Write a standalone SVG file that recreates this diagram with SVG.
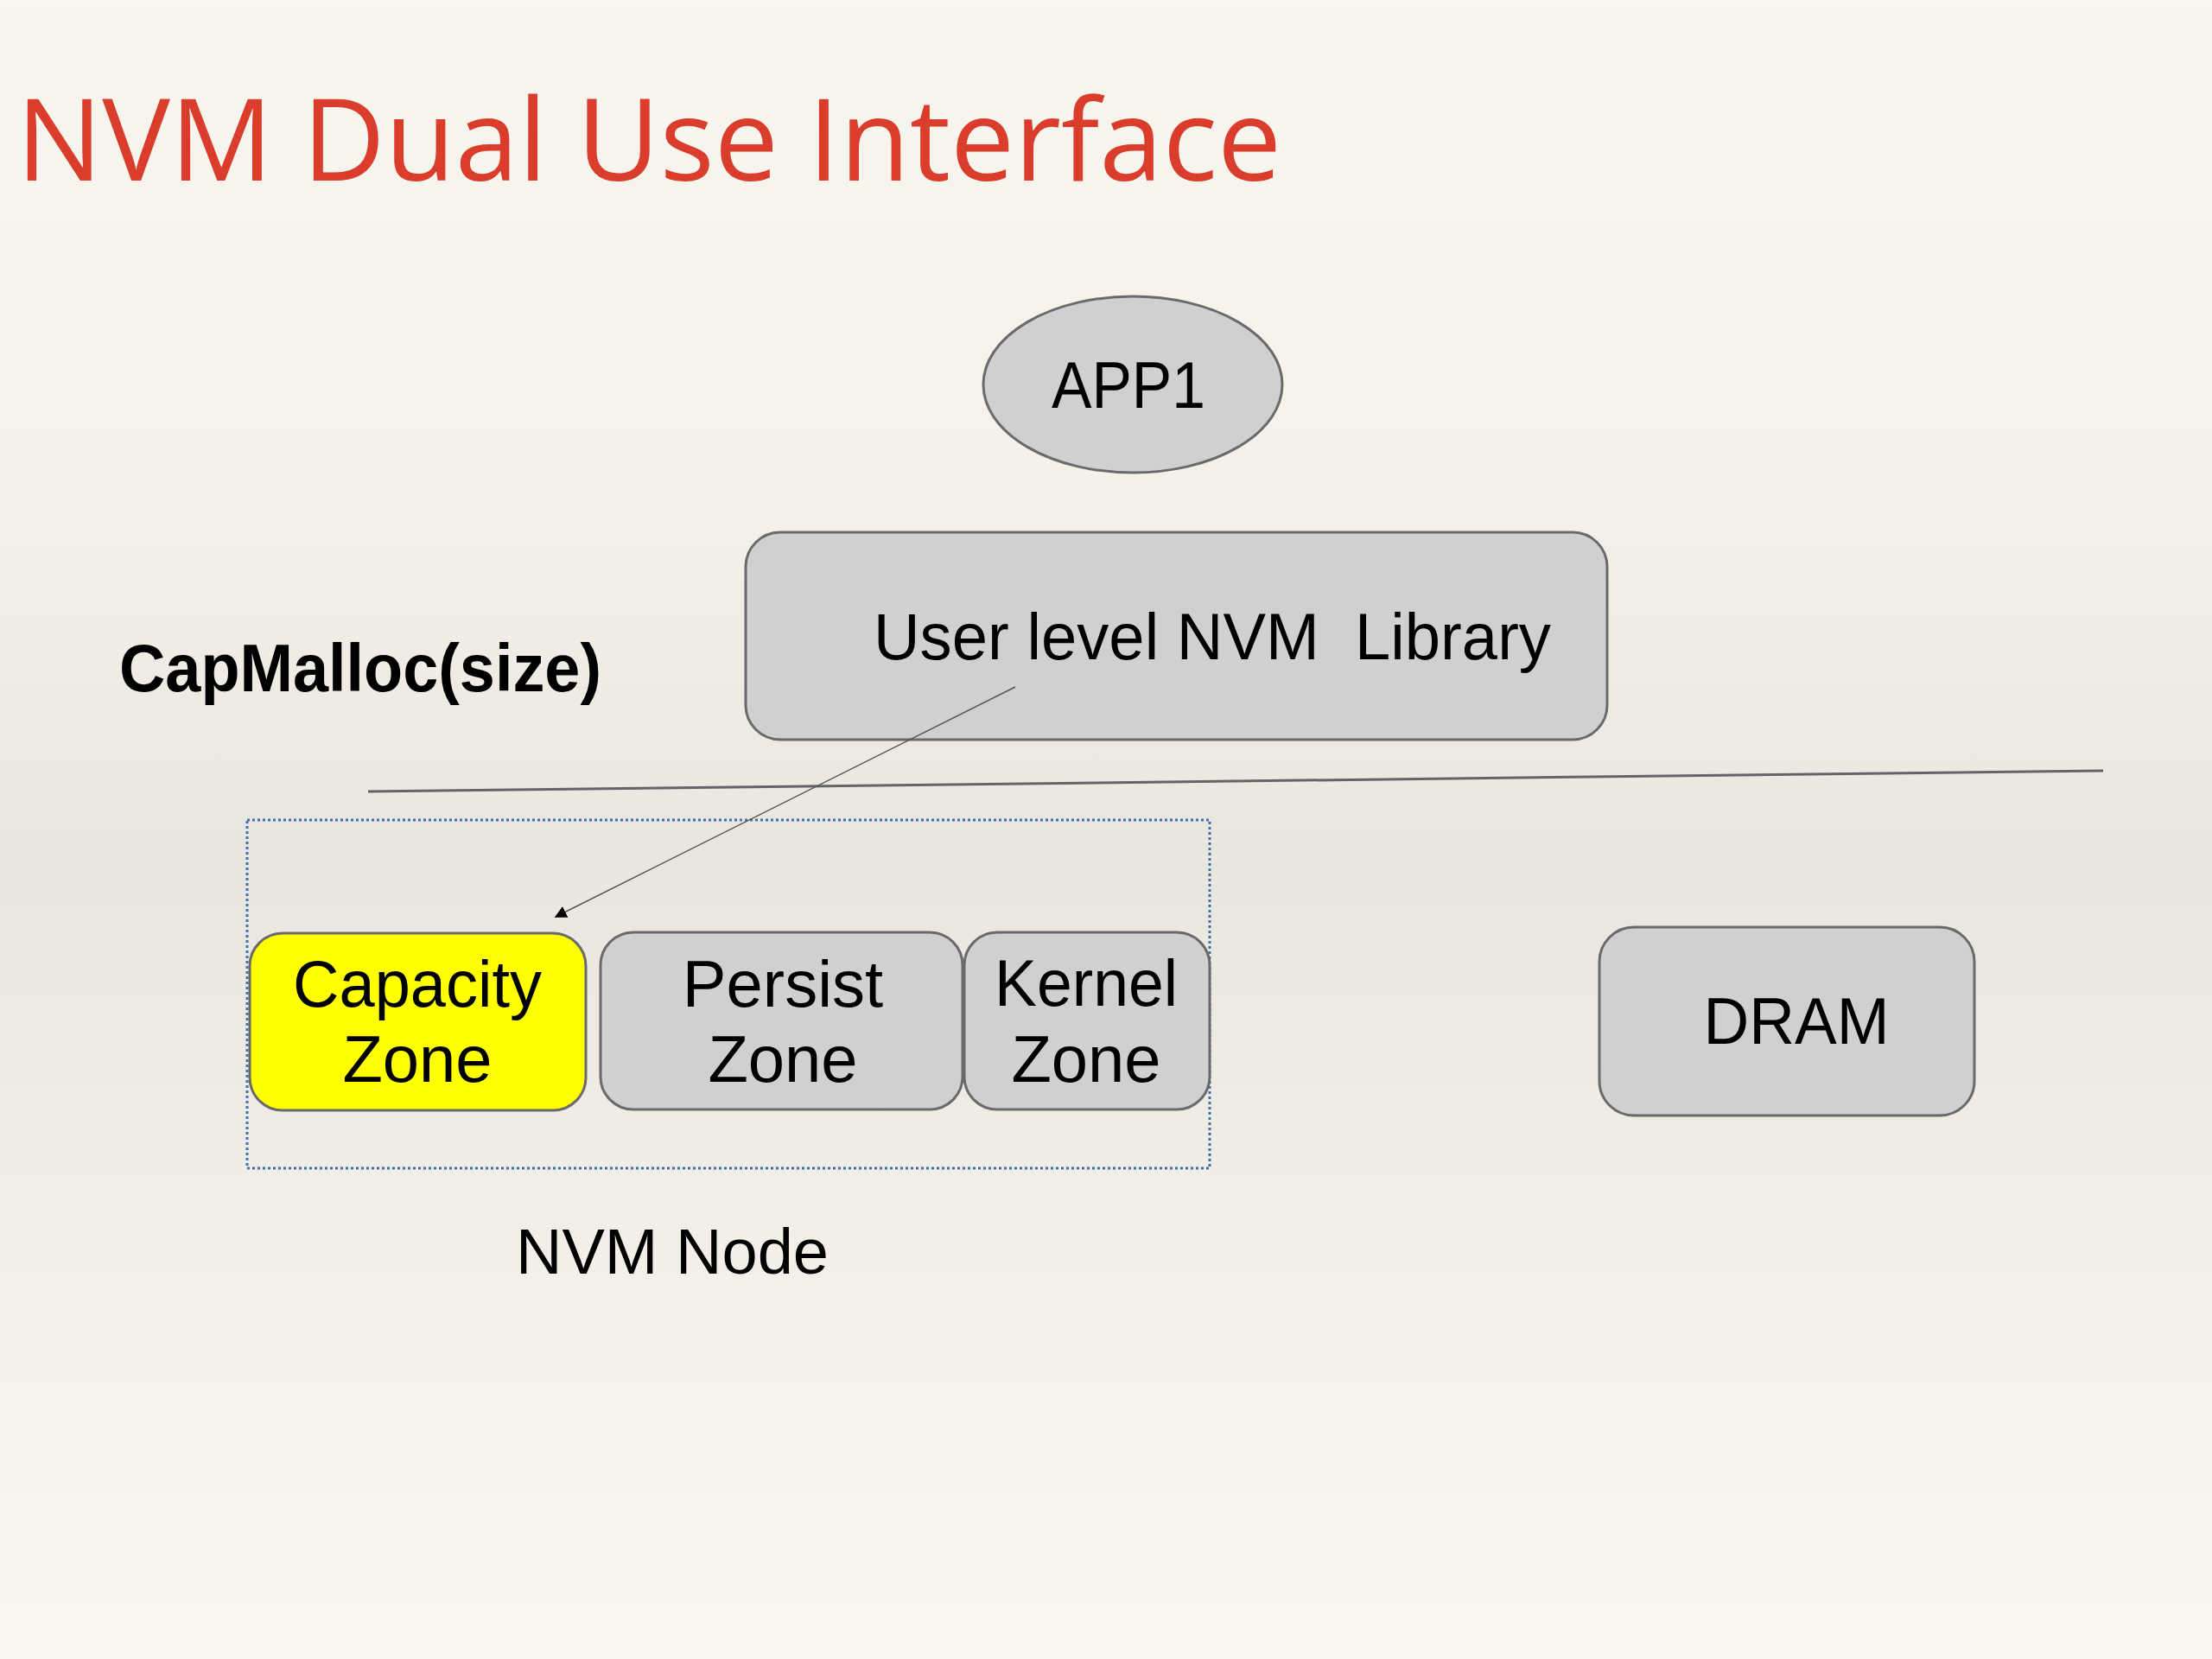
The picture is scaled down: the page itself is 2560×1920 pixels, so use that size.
<svg xmlns="http://www.w3.org/2000/svg" width="2560" height="1920" viewBox="0 0 2560 1920">
  <defs>
    <linearGradient id="bg" x1="0" y1="0" x2="0" y2="1">
      <stop offset="0" stop-color="#F8F6EE"/>
      <stop offset="0.3" stop-color="#F3F1E9"/>
      <stop offset="0.52" stop-color="#E9E6DF"/>
      <stop offset="0.75" stop-color="#F1EFE8"/>
      <stop offset="1" stop-color="#F9F7EF"/>
    </linearGradient>
    <marker id="arrow" viewBox="0 0 10 10" refX="9" refY="5" markerWidth="14" markerHeight="14" markerUnits="userSpaceOnUse" orient="auto">
      <path d="M0,0 L10,5 L0,10 Z" fill="#000"/>
    </marker>
    <style>
      .box { fill: #D0D0D0; stroke: #6A6A6A; stroke-width: 3; }
      .yellow { fill: #FFFF00; stroke: #6A6A6A; stroke-width: 3; }
      .lbl { font-family: "Liberation Sans", Arial, sans-serif; font-size: 76px; fill: #000; text-anchor: middle; }
      .title { font-family: "Open Sans", "Noto Sans", sans-serif; font-size: 132px; fill: #DA3D2B; }
      .bold { font-family: "Liberation Sans", Arial, sans-serif; font-size: 77px; font-weight: bold; fill: #000; }
    </style>
  </defs>
  <rect x="0" y="0" width="2560" height="1920" fill="url(#bg)"/>

  <text class="title" x="19" y="209" textLength="1464" lengthAdjust="spacingAndGlyphs">NVM Dual Use Interface</text>

  <g id="app1">
    <ellipse class="box" cx="1311" cy="445" rx="173" ry="102"/>
    <text class="lbl" x="1306" y="472" textLength="178" lengthAdjust="spacingAndGlyphs">APP1</text>
  </g>

  <g id="library">
    <rect class="box" x="863" y="616" width="997" height="240" rx="40" ry="40"/>
    <text class="lbl" x="1011" y="763" style="text-anchor:start" textLength="784" lengthAdjust="spacingAndGlyphs" xml:space="preserve">User level NVM  Library</text>
  </g>

  <g id="capmalloc">
    <text class="bold" x="138" y="800" textLength="558" lengthAdjust="spacingAndGlyphs">CapMalloc(size)</text>
  </g>

  <g id="divider">
    <line x1="426" y1="916" x2="2434" y2="892" stroke="#646464" stroke-width="3"/>
  </g>

  <g id="nvm-node">
    <rect x="286" y="949" width="1114" height="403" fill="none" stroke="#3E72AA" stroke-width="3" stroke-dasharray="3 3"/>
    <text class="lbl" x="778" y="1474" style="font-size:74px">NVM Node</text>
  </g>

  <g id="capacity-zone">
    <rect class="yellow" x="289" y="1080" width="389" height="205" rx="38" ry="38"/>
    <text class="lbl" x="483" y="1165" textLength="288" lengthAdjust="spacingAndGlyphs">Capacity</text>
    <text class="lbl" x="483" y="1252">Zone</text>
  </g>

  <g id="persist-zone">
    <rect class="box" x="695" y="1079" width="419" height="205" rx="38" ry="38"/>
    <text class="lbl" x="906" y="1165">Persist</text>
    <text class="lbl" x="906" y="1252">Zone</text>
  </g>

  <g id="kernel-zone">
    <rect class="box" x="1116" y="1079" width="284" height="205" rx="38" ry="38"/>
    <text class="lbl" x="1257" y="1164" textLength="212" lengthAdjust="spacingAndGlyphs">Kernel</text>
    <text class="lbl" x="1257" y="1252">Zone</text>
  </g>

  <g id="dram">
    <rect class="box" x="1851" y="1073" width="434" height="218" rx="40" ry="40"/>
    <text class="lbl" x="2079" y="1208" textLength="215" lengthAdjust="spacingAndGlyphs">DRAM</text>
  </g>

  <g id="connectors">
    <line x1="1175" y1="795" x2="643" y2="1061" stroke="#555" stroke-width="1.5" marker-end="url(#arrow)"/>
  </g>
</svg>
